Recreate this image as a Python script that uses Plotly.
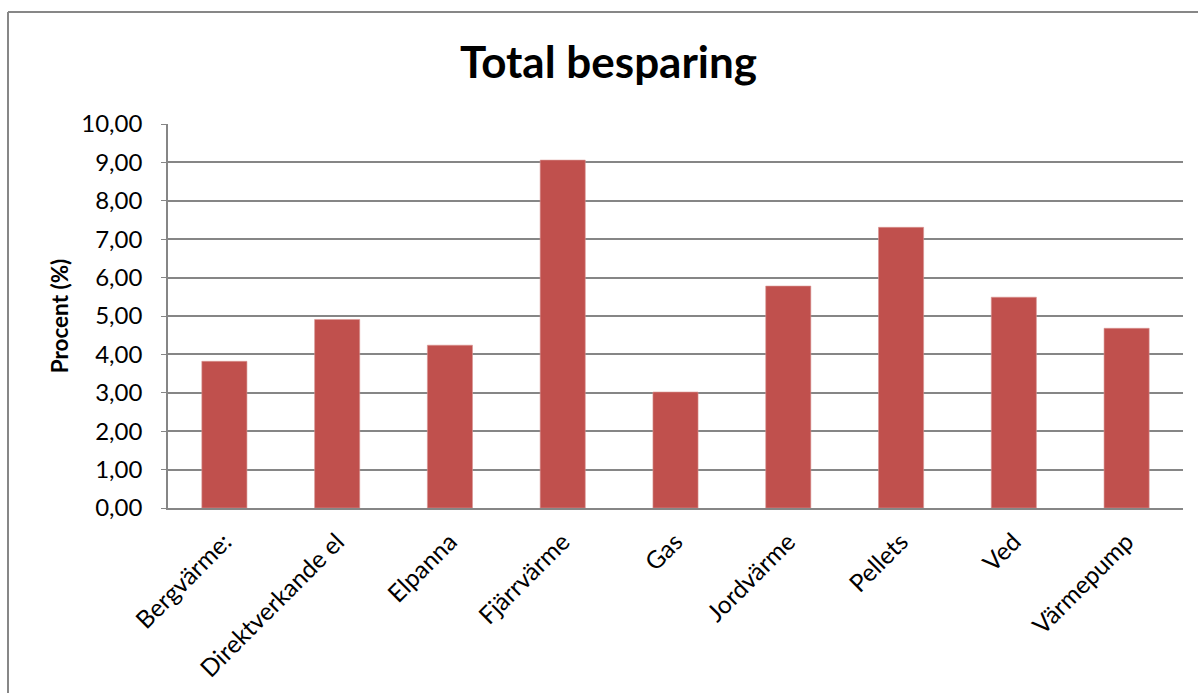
import plotly.graph_objects as go

# Heating system categories and the total saving (percent) for each
categories = ["Bergvärme:", "Direktverkande el", "Elpanna", "Fjärrvärme", "Gas",
              "Jordvärme", "Pellets", "Ved", "Värmepump"]
savings = [3.82, 4.91, 4.24, 9.06, 3.02, 5.78, 7.31, 5.49, 4.68]

y_ticks = [0, 1, 2, 3, 4, 5, 6, 7, 8, 9, 10]

FONT = "Lato, 'Open Sans', sans-serif"
GRID = "#868686"

fig = go.Figure(
    go.Bar(
        x=categories,
        y=savings,
        marker=dict(color="#C0504D", line=dict(color="#D99694", width=0.6)),
        hoverinfo="x+y",
    )
)

fig.update_layout(
    width=1198,
    height=693,
    margin=dict(l=168, r=15, t=124, b=185),
    paper_bgcolor="white",
    plot_bgcolor="white",
    separators=", ",
    bargap=0.6,
    showlegend=False,
    font=dict(family=FONT, color="black"),
    title=dict(
        text="<b>Total besparing</b>",
        font=dict(family=FONT, size=44, color="black"),
        xref="container", x=0.508, xanchor="center",
        yref="container", y=0.909, yanchor="middle",
    ),
    # outer chart frame (left and top edges are visible)
    shapes=[
        dict(type="line", xref="paper", yref="paper",
             x0=(8 - 168) / 1015, x1=(1198 - 168) / 1015,
             y0=(508 - 12) / 384, y1=(508 - 12) / 384,
             line=dict(color="#878787", width=2)),
        dict(type="line", xref="paper", yref="paper",
             x0=(8 - 168) / 1015, x1=(8 - 168) / 1015,
             y0=(508 - 12) / 384, y1=(508 - 700) / 384,
             line=dict(color="#878787", width=2)),
    ],
)

fig.update_yaxes(
    range=[0, 10],
    tickvals=y_ticks,
    tickformat=".2f",
    tickfont=dict(family=FONT, size=24, color="black"),
    showgrid=True,
    gridcolor=GRID,
    gridwidth=1.6,
    showline=True,
    linecolor=GRID,
    linewidth=1.6,
    ticks="outside",
    ticklen=5,
    tickcolor=GRID,
    ticklabelstandoff=14,
    zeroline=False,
    title=dict(text="<b>Procent (%)</b>", font=dict(family=FONT, size=22.5, color="black"),
               standoff=6),
)

fig.update_xaxes(
    tickangle=-45,
    tickfont=dict(family=FONT, size=24.5, color="black"),
    showline=True,
    linecolor=GRID,
    linewidth=1.6,
    ticks="",
    showgrid=False,
    mirror=False,
    ticklabelstandoff=8,
)

fig.write_html("out.html")
